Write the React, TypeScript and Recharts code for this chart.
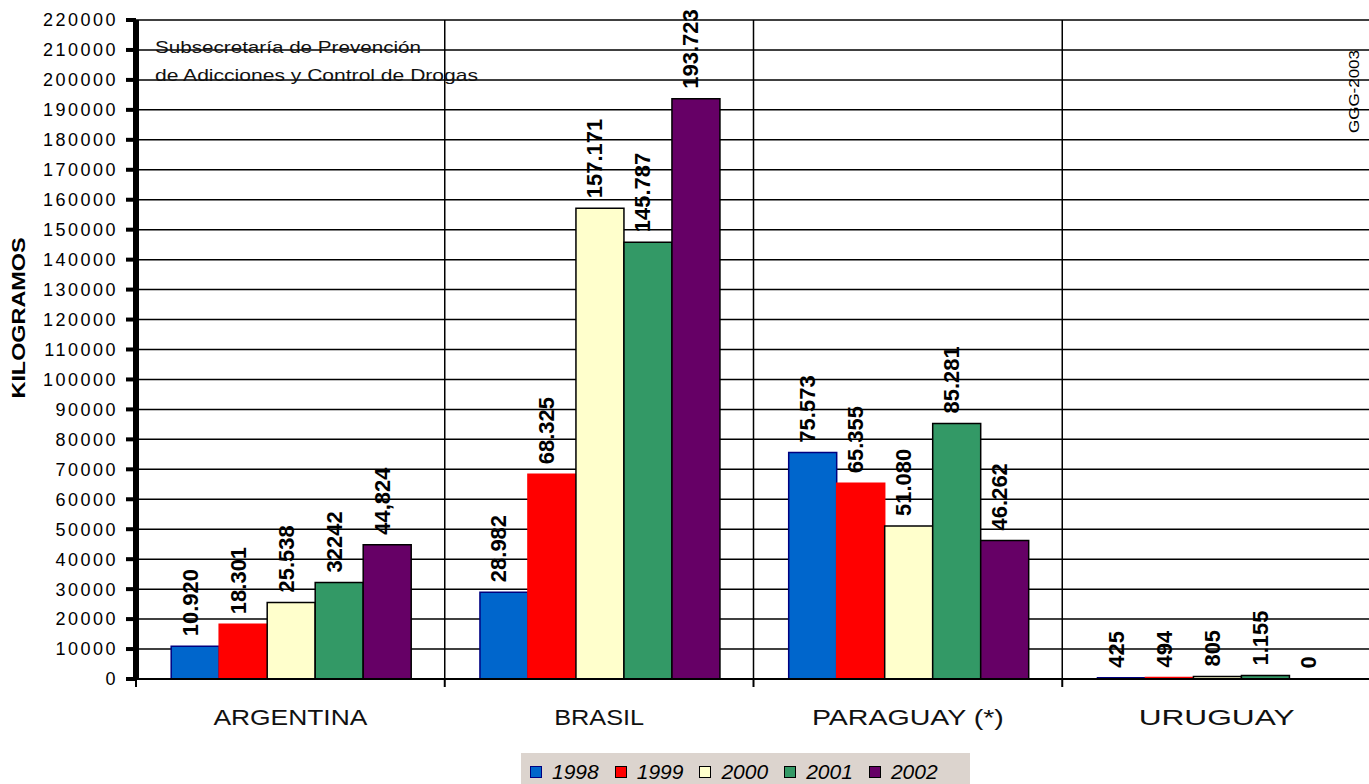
import { BarChart, Bar, XAxis, YAxis, CartesianGrid, LabelList, Cell } from "recharts"

const paises = ["ARGENTINA", "BRASIL", "PARAGUAY (*)", "URUGUAY"]
const anios = ["1998", "1999", "2000", "2001", "2002"]

const kg1998 = [10920, 28982, 75573, 425]
const kg1999 = [18301, 68325, 65355, 494]
const kg2000 = [25538, 157171, 51080, 805]
const kg2001 = [32242, 145787, 85281, 1155]
const kg2002 = [44824, 193723, 46262, 0]

// etiquetas tal como aparecen en el grafico original
const et1998 = ["10.920", "28.982", "75.573", "425"]
const et1999 = ["18.301", "68.325", "65.355", "494"]
const et2000 = ["25.538", "157.171", "51.080", "805"]
const et2001 = ["32242", "145.787", "85.281", "1.155"]
const et2002 = ["44,824", "193.723", "46.262", "0"]

const yTicks = [
  0, 10000, 20000, 30000, 40000, 50000, 60000, 70000, 80000, 90000, 100000, 110000,
  120000, 130000, 140000, 150000, 160000, 170000, 180000, 190000, 200000, 210000, 220000,
]

const valores = [kg1998, kg1999, kg2000, kg2001, kg2002]
const etiquetas = [et1998, et1999, et2000, et2001, et2002]

const data = paises.map((pais, i) => {
  const row: Record<string, string | number> = { pais }
  anios.forEach((a, j) => {
    row["y" + a] = valores[j][i]
    row["l" + a] = etiquetas[j][i]
  })
  return row
})

const fills = ["#0066CC", "#FF0000", "#FFFFCC", "#339966", "#660066"]
const strokes = ["#000080", "#FF0000", "#000000", "#000000", "#000000"]
const xLabelLen = [154, 90, 192, 156]

const W = 1372
const H = 784
const LEFT = 136
const RIGHT = 1
const BAND = (W - LEFT - RIGHT) / 4
const FONT = "'Liberation Sans', Arial, sans-serif"

function RotLabel(props: any) {
  const { x, y, width, value } = props
  const ax = x + width / 2 + 2.5
  const ay = y - 10
  return (
    <text
      x={ax}
      y={ay}
      transform={`rotate(-90 ${ax} ${ay})`}
      textAnchor="start"
      fontFamily={FONT}
      fontWeight="bold"
      fontSize={22}
      fill="#000"
    >
      {value}
    </text>
  )
}

function YTick(props: any) {
  const { x, y, payload } = props
  return (
    <text x={x} y={y} dy="0.355em" textAnchor="end" fontFamily={FONT} fontSize={18} letterSpacing={2.5} fill="#000">
      {payload.value}
    </text>
  )
}

function XTick(props: any) {
  const { x, y, payload, index } = props
  const b = x - BAND / 2
  return (
    <g>
      <line x1={b} x2={b} y1={y} y2={y + 8} stroke="#000" strokeWidth={2} />
      <text
        x={x}
        y={y + 46}
        textAnchor="middle"
        fontFamily={FONT}
        fontSize={22}
        textLength={xLabelLen[index]}
        lengthAdjust="spacingAndGlyphs"
        fill="#111"
      >
        {payload.value}
      </text>
    </g>
  )
}

export default function App() {
  return (
    <div style={{ position: "absolute", left: 0, top: 0, width: 1369, height: H, overflow: "hidden", background: "#fff" }}>
      <BarChart
        width={W}
        height={H}
        data={data}
        margin={{ top: 20, right: RIGHT, left: 0, bottom: 0 }}
        barCategoryGap="11.4%"
        barGap={0}
      >
        <CartesianGrid
          stroke="#000"
          strokeWidth={1.5}
          verticalCoordinatesGenerator={({ offset }: any) =>
            [0, 1, 2, 3].map((i) => offset.left + (i * offset.width) / 4)
          }
        />
        <XAxis
          dataKey="pais"
          height={105}
          tickSize={0}
          tickMargin={0}
          axisLine={{ stroke: "#000", strokeWidth: 2 }}
          tickLine={false}
          tick={<XTick />}
          interval={0}
        />
        <YAxis
          width={LEFT}
          domain={[0, 220000]}
          ticks={yTicks}
          interval={0}
          tickSize={10}
          tickMargin={8}
          axisLine={{ stroke: "#000", strokeWidth: 6 }}
          tickLine={{ stroke: "#000", strokeWidth: 4 }}
          tick={<YTick />}
        />
        {anios.map((a, j) => (
          <Bar
            key={a}
            dataKey={"y" + a}
            name={a}
            fill={fills[j]}
            stroke={strokes[j]}
            strokeWidth={1.5}
            minPointSize={0.5}
            isAnimationActive={false}
          >
            {valores[j].map((v, i) => (
              <Cell
                key={i}
                fill={v === 0 ? "none" : fills[j]}
                stroke={v === 0 ? "none" : strokes[j]}
              />
            ))}
            <LabelList dataKey={"l" + a} content={<RotLabel />} />
          </Bar>
        ))}
      </BarChart>

      <svg
        width={1369}
        height={H}
        style={{ position: "absolute", left: 0, top: 0, pointerEvents: "none", whiteSpace: "pre" }}
      >
        <text
          x={18}
          y={318}
          transform="rotate(-90 18 318)"
          textAnchor="middle"
          dominantBaseline="central"
          fontFamily={FONT}
          fontWeight="bold"
          fontSize={19}
          textLength={161}
          lengthAdjust="spacingAndGlyphs"
          fill="#000"
        >
          KILOGRAMOS
        </text>
        <text x={155} y={53} fontFamily={FONT} fontSize={17} textLength={266} lengthAdjust="spacingAndGlyphs" fill="#111">
          Subsecretaría de Prevención
        </text>
        <text x={155} y={81} fontFamily={FONT} fontSize={17} textLength={323} lengthAdjust="spacingAndGlyphs" fill="#111">
          de  Adicciones y Control de Drogas
        </text>
        <text
          x={1359}
          y={133}
          transform="rotate(-90 1359 133)"
          fontFamily={FONT}
          fontSize={14}
          textLength={83}
          lengthAdjust="spacingAndGlyphs"
          fill="#000"
        >
          GGG-2003
        </text>
      </svg>

      <div
        style={{
          position: "absolute",
          left: 521,
          top: 753,
          width: 449,
          height: 31,
          background: "#DCD4CE",
          display: "flex",
          alignItems: "center",
          paddingLeft: 9,
          paddingTop: 6,
          boxSizing: "border-box",
          fontFamily: FONT,
          fontStyle: "italic",
          fontSize: 21,
          color: "#000",
        }}
      >
        {anios.map((a, j) => (
          <div key={a} style={{ display: "flex", alignItems: "center", marginRight: 16 }}>
            <span
              style={{
                display: "inline-block",
                width: 10,
                height: 10,
                background: fills[j],
                border: `1.5px solid ${j === 0 ? "#000080" : "#000"}`,
                marginRight: 10,
              }}
            />
            <span>{a}</span>
          </div>
        ))}
      </div>
    </div>
  )
}
